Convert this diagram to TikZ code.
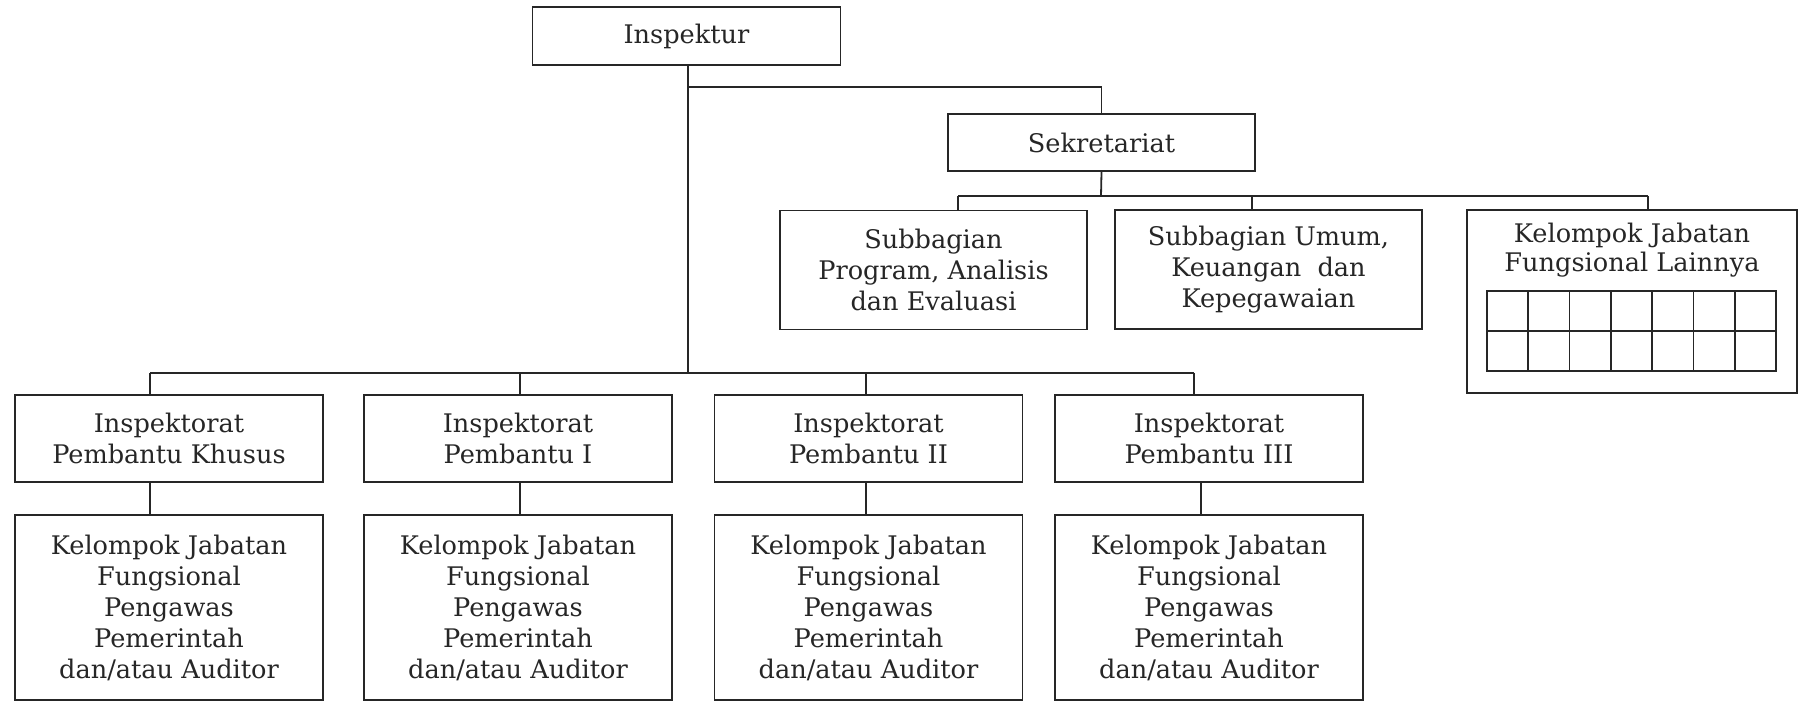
\documentclass[tikz,border=0pt]{standalone}
\usepackage{fontspec}
\setmainfont{DejaVu Serif}
\begin{document}
\begin{tikzpicture}[x=0.5pt,y=-0.5pt,
  conn/.style={draw=black!85,line width=0.9pt},
  box/.style={draw=black!85,line width=0.9pt,align=center,text=black!85,
    font=\fontsize{12.8}{15.5}\selectfont,inner sep=0pt,minimum width=154pt},
  txt/.style={align=center,text=black!85,font=\fontsize{12.8}{14.5}\selectfont,inner sep=0pt}]
\useasboundingbox (0,0) rectangle (1799,704);
% top
\node[box,minimum height=29pt] (insp) at (686.5,36) {Inspektur};
\node[box,minimum width=153.5pt,minimum height=28.5pt] (sek) at (1101.5,142.5) {Sekretariat};
\node[box,minimum width=153.5pt,minimum height=59.5pt] (sub1) at (933.5,270) {Subbagian\\Program, Analisis\\dan Evaluasi};
\node[box,minimum width=153.5pt,minimum height=59.5pt] (sub2) at (1268.5,269.5) {Subbagian Umum,\\Keuangan~ dan\\Kepegawaian};
\node[box,minimum width=165pt,minimum height=91.5pt] (kel) at (1632,301.5) {};
\node[txt] (kelt) at (1632,250) {Kelompok Jabatan\\Fungsional Lainnya};
% grid
\draw[conn] (1487,291) rectangle (1776,371);
\draw[conn] (1487,331) -- (1776,331);
\foreach \i in {1,...,6} {\draw[conn] ({1487+\i*41.29},291) -- ({1487+\i*41.29},371);}
% inspektorat row
\node[box,minimum height=43.5pt] (ik) at (169,438.5) {Inspektorat\\Pembantu Khusus};
\node[box,minimum height=43.5pt] (i1) at (518,438.5) {Inspektorat\\Pembantu I};
\node[box,minimum height=43.5pt] (i2) at (868.5,438.5) {Inspektorat\\Pembantu II};
\node[box,minimum height=43.5pt] (i3) at (1209,438.5) {Inspektorat\\Pembantu III};
% lower row
\node[box,minimum height=92.5pt] (fk) at (169,607.5) {Kelompok Jabatan\\Fungsional\\Pengawas\\Pemerintah\\dan/atau Auditor};
\node[box,minimum height=92.5pt] (f1) at (518,607.5) {Kelompok Jabatan\\Fungsional\\Pengawas\\Pemerintah\\dan/atau Auditor};
\node[box,minimum height=92.5pt] (f2) at (868.5,607.5) {Kelompok Jabatan\\Fungsional\\Pengawas\\Pemerintah\\dan/atau Auditor};
\node[box,minimum height=92.5pt] (f3) at (1209,607.5) {Kelompok Jabatan\\Fungsional\\Pengawas\\Pemerintah\\dan/atau Auditor};
% coordinates
\coordinate (tb) at (688,87);
\coordinate (ib) at (688,373);
\coordinate (sb) at (1101,196);
\coordinate (x1) at (958,196);
\coordinate (x2) at (1252,196);
\coordinate (x3) at (1648,196);
\coordinate (dk) at (150,373);
\coordinate (d1) at (520,373);
\coordinate (d2) at (866,373);
\coordinate (d3) at (1194,373);
\coordinate (e3) at (1201,500);
% connectors
\draw[conn] (insp.south -| ib) -- (ib);
\draw[conn] (tb) -| (sek.north);
\draw[conn] (sek.south) -- (sb);
\draw[conn] (x1) -- (x3);
\draw[conn] (x1) -- (sub1.north -| x1);
\draw[conn] (x2) -- (sub2.north -| x2);
\draw[conn] (x3) -- (kel.north -| x3);
\draw[conn] (dk) -- (d3);
\draw[conn] (dk) -- (ik.north -| dk);
\draw[conn] (d1) -- (i1.north -| d1);
\draw[conn] (d2) -- (i2.north -| d2);
\draw[conn] (d3) -- (i3.north -| d3);
\draw[conn] (ik.south -| dk) -- (fk.north -| dk);
\draw[conn] (i1.south -| d1) -- (f1.north -| d1);
\draw[conn] (i2.south -| d2) -- (f2.north -| d2);
\draw[conn] (i3.south -| e3) -- (f3.north -| e3);
\end{tikzpicture}
\end{document}
